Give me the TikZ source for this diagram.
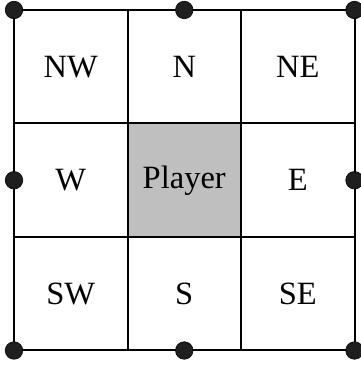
\documentclass[tikz,border=0pt]{standalone}
\usepackage{fontspec}
\setmainfont{Liberation Serif}
\begin{document}
\begin{tikzpicture}[x=1pt,y=1pt,
  cell/.style={draw=black, line width=2pt, minimum width=113.5pt, minimum height=113.5pt,
    inner sep=0pt, outer sep=0pt, font=\fontsize{32.5}{32.5}\selectfont},
  playercell/.style={cell, fill=gray!50!white},
  gdot/.style={circle, fill=black!88, draw=black, line width=0.6pt, minimum size=17.5pt, inner sep=0pt}]
\useasboundingbox (0,0) rectangle (361,365);
\node[cell] (nw) at (70.75,298.25) {NW};
\node[cell] (n)  at (184.25,298.25) {N};
\node[cell] (ne) at (297.75,298.25) {NE};
\node[cell] (w)  at (70.75,184.75) {W};
\node[playercell] (p) at (184.25,184.75) {Player};
\node[cell] (e)  at (297.75,184.75) {E};
\node[cell] (sw) at (70.75,71.25) {SW};
\node[cell] (s)  at (184.25,71.25) {S};
\node[cell] (se) at (297.75,71.25) {SE};
\node[gdot] (d1) at (nw.north west) {};
\node[gdot] (d2) at (n.north) {};
\node[gdot] (d3) at (ne.north east) {};
\node[gdot] (d4) at (w.west) {};
\node[gdot] (d5) at (e.east) {};
\node[gdot] (d6) at (sw.south west) {};
\node[gdot] (d7) at (s.south) {};
\node[gdot] (d8) at (se.south east) {};
\end{tikzpicture}
\end{document}
